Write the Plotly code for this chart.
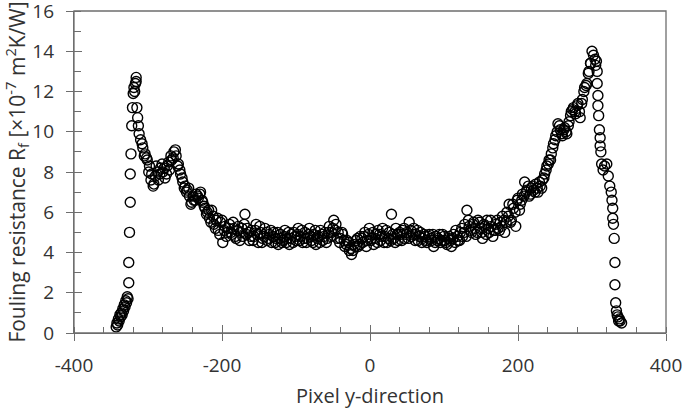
import plotly.graph_objects as go

# Left edge (steep rise and first peak)
x_left = [-343, -342, -341, -340, -339, -338, -337, -336, -335, -334,
          -333, -332, -331, -330, -329, -328, -327, -326, -326, -325,
          -324, -324, -323, -322, -321, -320, -319, -318, -317, -316,
          -316, -315, -314, -313, -312]
y_left = [0.3, 0.5, 0.4, 0.7, 0.6, 0.9, 0.8, 1.0, 0.9, 1.2,
          1.1, 1.4, 1.3, 1.6, 1.5, 1.8, 1.7, 2.5, 3.5, 5.0,
          6.5, 7.9, 8.9, 10.3, 11.2, 11.9, 12.2, 12.0, 12.4, 12.7,
          12.5, 11.2, 10.7, 10.3, 9.9]

# Main band, first set: pixel positions every 3 px starting at -310
band1_start = -310
y_band1 = [
    9.6, 9.2, 8.9, 8.6, 8.3, 7.9, 7.4, 8.3, 7.6, 8.2,      # -310
    8.0, 7.7, 8.3, 8.1, 8.6, 9.0, 8.8, 8.4, 7.9, 7.5,      # -280
    7.3, 7.1, 6.8, 6.5, 6.6, 6.9, 6.7, 7.0, 6.5, 6.2,      # -250
    6.0, 5.7, 6.1, 5.4, 5.6, 5.1, 5.5, 4.5, 5.3, 5.0,      # -220
    5.4, 4.9, 5.2, 4.7, 5.3, 5.0, 4.8, 5.9, 5.2, 4.6,      # -190
    5.1, 4.8, 5.4, 4.5, 5.0, 4.7, 5.2, 4.6, 4.9, 4.5,      # -160
    5.0, 4.7, 4.4, 4.9, 4.6, 5.1, 4.7, 4.4, 4.9, 5.0,      # -130
    4.6, 5.2, 4.8, 4.5, 5.0, 4.7, 5.2, 4.6, 4.9, 4.4,      # -100
    4.8, 5.1, 4.6, 5.0, 4.7, 5.3, 5.0, 5.6, 5.4, 5.0,      # -70
    4.7, 4.9, 4.3, 4.6, 4.1, 3.9, 4.4, 4.6, 4.3, 4.8,      # -40
    4.5, 5.0, 4.6, 5.2, 4.7, 4.4, 4.9, 5.1, 4.6, 5.2,      # -10
    4.8, 4.5, 5.0, 5.9, 4.7, 5.2, 4.6, 4.9, 5.1, 4.7,      # 20
    5.0, 5.5, 4.8, 5.2, 4.9, 4.6, 5.0, 4.7, 4.8, 4.5,      # 50
    4.9, 4.6, 4.3, 4.8, 4.7, 4.5, 4.9, 4.6, 4.4, 4.8,      # 80
    4.3, 4.9, 5.1, 4.6, 5.0, 4.8, 5.4, 6.1, 5.3, 5.0,      # 110
    5.5, 4.9, 5.6, 5.2, 4.7, 5.3, 5.6, 5.0, 5.3, 5.1,      # 140
    5.4, 5.2, 5.5, 5.8, 5.0, 6.0, 6.4, 5.6, 6.2, 5.3,      # 170
    6.7, 6.4, 6.9, 7.5, 7.1, 6.8, 7.2, 7.1, 7.4, 7.0,      # 200
    7.3, 7.6, 7.9, 8.3, 8.6, 8.9, 9.4, 9.8, 10.4, 10.1,    # 230
    9.8, 10.2, 9.9, 10.5, 11.0, 11.2, 10.9, 11.4, 10.7, 11.6,  # 260
    12.2, 12.4, 13.0,                                       # 290
]

# Main band, second set: pixel positions every 3 px starting at -308
band2_start = -308
y_band2 = [
    9.4, 8.8, 8.7, 8.0, 7.6, 7.3, 7.8, 8.0, 7.9, 8.4,      # -308
    8.2, 7.9, 8.5, 8.8, 8.7, 9.1, 8.3, 8.1, 7.7, 7.2,      # -278
    7.0, 7.2, 6.4, 6.8, 6.6, 6.8, 6.9, 6.6, 6.3, 5.9,      # -248
    6.1, 5.5, 5.8, 5.2, 5.7, 4.9, 5.6, 5.1, 4.8, 5.2,      # -218
    5.0, 5.5, 4.8, 5.1, 4.6, 5.2, 5.4, 4.9, 5.0, 4.8,      # -188
    4.6, 5.1, 4.9, 5.3, 4.5, 4.8, 5.0, 4.7, 5.1, 4.8,      # -158
    4.5, 5.0, 4.7, 4.5, 4.8, 4.5, 5.0, 4.7, 4.5, 4.8,      # -128
    4.9, 4.6, 5.1, 4.7, 4.5, 4.9, 4.8, 4.5, 5.1, 4.7,      # -98
    4.5, 4.9, 4.8, 4.5, 5.0, 4.8, 5.2, 5.1, 4.7, 4.5,      # -68
    5.0, 4.6, 4.4, 4.5, 4.2, 4.1, 4.3, 4.7, 4.4, 4.7,      # -38
    4.8, 4.3, 4.9, 4.6, 5.0, 4.7, 4.5, 4.9, 4.8, 4.5,      # -8
    5.1, 4.7, 4.6, 4.9, 4.5, 4.9, 5.0, 4.6, 5.2, 4.9,      # 22
    4.7, 5.1, 4.9, 4.6, 5.1, 4.8, 4.5, 4.9, 4.6, 4.8,      # 52
    4.7, 4.9, 4.5, 4.6, 4.9, 4.6, 4.8, 4.5, 4.7, 4.6,      # 82
    4.7, 4.5, 4.8, 4.6, 5.2, 5.0, 4.8, 5.6, 5.1, 5.4,      # 112
    5.2, 5.0, 5.5, 5.0, 5.4, 4.9, 5.2, 5.6, 4.8, 5.1,      # 142
    5.6, 5.1, 5.3, 5.6, 5.5, 5.8, 5.5, 6.4, 6.0, 6.6,      # 172
    6.1, 6.6, 6.8, 7.0, 7.3, 6.9, 7.3, 7.0, 7.2, 7.5,      # 202
    7.2, 7.7, 8.1, 8.4, 8.6, 9.2, 9.6, 10.0, 10.3, 9.9,    # 232
    10.1, 10.0, 10.3, 10.8, 11.1, 11.0, 11.3, 11.0, 11.4, 12.0,  # 262
    12.3, 12.9, 13.4,                                       # 292
]
band_step = 3
x_band1 = [band1_start + band_step * i for i in range(len(y_band1))]
x_band2 = [band2_start + band_step * i for i in range(len(y_band2))]

# Right edge (second peak and steep fall)
x_right = [298, 300, 302, 304, 305, 306, 307, 307, 308, 308,
           309, 310, 311, 311, 312, 313, 315, 317, 320, 322,
           324, 326, 327, 328, 328, 329, 330, 331, 331, 332,
           333, 334, 335, 336, 337, 338, 340]
y_right = [13.4, 14.0, 13.8, 13.6, 13.3, 13.5, 13.0, 12.4, 11.8, 11.3,
           10.8, 10.1, 9.7, 9.3, 9.0, 8.4, 8.1, 8.3, 8.4, 7.8,
           7.3, 7.0, 6.6, 6.2, 5.7, 5.4, 4.7, 3.5, 2.4, 1.5,
           1.1, 0.9, 0.8, 0.6, 0.7, 0.6, 0.5]

x_all = x_left + x_band1 + x_band2 + x_right
y_all = y_left + y_band1 + y_band2 + y_right

x_range = [-400, 400]
y_range = [0, 16]
x_ticks = [-400, -200, 0, 200, 400]
x_ticktext = ["-400", "-200", "0", "200", "400"]
y_ticks = [0, 2, 4, 6, 8, 10, 12, 14, 16]

axis_col = "#6e6e6e"
txt_col = "#333333"
font_family = "Open Sans, Liberation Sans, sans-serif"

fig = go.Figure()
fig.add_trace(go.Scatter(
    x=x_all, y=y_all, mode="markers",
    marker=dict(symbol="circle-open", size=10, color="black",
                line=dict(width=1.4, color="black")),
    showlegend=False, hoverinfo="skip", cliponaxis=False,
))
# helper trace to register overlay axes (inside half of crossing ticks)
fig.add_trace(go.Scatter(x=[], y=[], xaxis="x2", yaxis="y2", showlegend=False))

fig.update_layout(
    template="none",
    width=685, height=409,
    margin=dict(l=74, r=19, t=11, b=76),
    paper_bgcolor="white", plot_bgcolor="white",
    font=dict(family=font_family, color=txt_col, size=18),
    xaxis=dict(
        range=x_range, tickvals=x_ticks, ticktext=x_ticktext,
        showgrid=False, zeroline=False, automargin=False,
        showline=True, linecolor=axis_col, linewidth=1.3, mirror=False,
        ticks="outside", ticklen=7, tickwidth=1.3, tickcolor=axis_col,
        ticklabelstandoff=8, ticklabeloverflow="allow",
        minor=dict(ticks="inside", dtick=40, ticklen=6, tickwidth=1.2,
                   tickcolor=axis_col, showgrid=False),
        tickfont=dict(size=19),
        title=dict(text="Pixel y-direction", font=dict(size=20), standoff=14),
    ),
    yaxis=dict(
        range=y_range, tickvals=y_ticks, showgrid=False, zeroline=False,
        automargin=False,
        showline=True, linecolor=axis_col, linewidth=1.3, mirror=False,
        ticks="outside", ticklen=7, tickwidth=1.3, tickcolor=axis_col,
        ticklabelstandoff=8, ticklabeloverflow="allow",
        minor=dict(ticks="inside", dtick=1, ticklen=7, tickwidth=1.2,
                   tickcolor=axis_col, showgrid=False),
        tickfont=dict(size=19),
        title=dict(text="Fouling resistance R<sub>f</sub> [×10<sup>-7</sup> m<sup>2</sup>K/W]",
                   font=dict(size=21), standoff=4),
    ),
    xaxis2=dict(
        overlaying="x", anchor="y", range=x_range, tickvals=x_ticks,
        showticklabels=False, showgrid=False, zeroline=False, showline=False,
        automargin=False,
        ticks="inside", ticklen=8, tickwidth=1.3, tickcolor=axis_col, side="bottom",
    ),
    yaxis2=dict(
        overlaying="y", anchor="x", range=y_range, tickvals=y_ticks,
        showticklabels=False, showgrid=False, zeroline=False, showline=False,
        automargin=False,
        ticks="inside", ticklen=8, tickwidth=1.3, tickcolor=axis_col, side="left",
    ),
    shapes=[dict(type="rect", xref="paper", yref="paper", x0=0, x1=1, y0=0, y1=1,
                 line=dict(color=axis_col, width=1.3), fillcolor="rgba(0,0,0,0)",
                 layer="above")],
)

fig.write_html("out.html", config={"displayModeBar": False},
               post_script="document.body.style.margin='0';document.body.style.padding='0';")
